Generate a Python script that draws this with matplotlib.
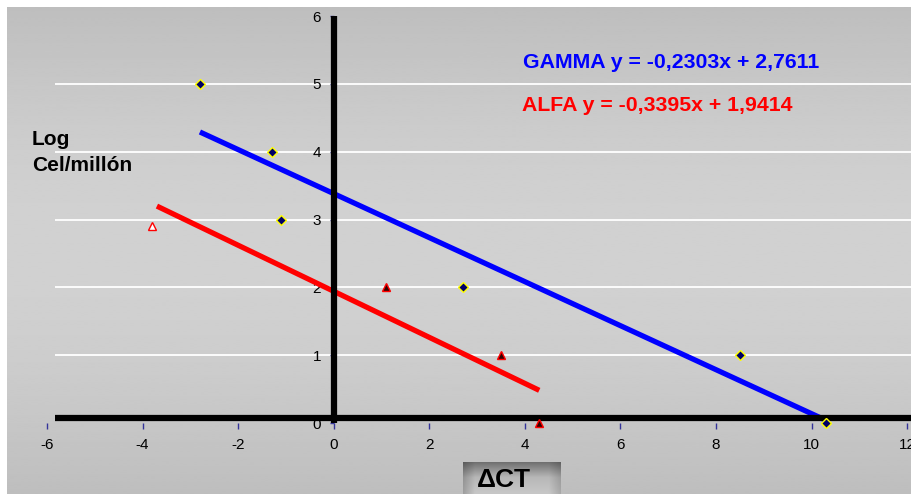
import numpy as np
import matplotlib.pyplot as plt

plt.rcParams['font.family'] = ['Liberation Sans', 'DejaVu Sans']
plt.rcParams['axes.unicode_minus'] = False

# datos
gamma_ct = [-2.8, -1.3, -1.1, 2.7, 8.5, 10.3]
gamma_log = [5, 4, 3, 2, 1, 0]
alfa_ct = [-3.8, 1.1, 3.5, 4.3]
alfa_log = [2.9, 2, 1, 0]
alfa_hollow = [True, False, False, False]

gamma_eq = (-0.2303, 2.7611)
alfa_eq = (-0.3395, 1.9414)

x_ticks = [-6, -4, -2, 0, 2, 4, 6, 8, 10, 12]
y_ticks = [0, 1, 2, 3, 4, 5, 6]

W, H = 912, 494
fig = plt.figure(figsize=(W / 100, H / 100), dpi=100)
fig.patch.set_facecolor('white')

# fondo degradado gris
bg = fig.add_axes([7 / W, 0, 1 - 7 / W, 1 - 7 / H], zorder=0)
grad = 0.745 + 0.075 * np.sin(np.linspace(0, np.pi, 256))
bg.imshow(grad[:, None], cmap='gray', vmin=0, vmax=1, aspect='auto',
          interpolation='bilinear')
bg.axis('off')

ax = fig.add_axes([47 / W, 71 / H, 865 / W, 407 / H], zorder=1)
ax.patch.set_alpha(0)
ax.set_xlim(-6, 12.1)
ax.set_ylim(0, 6)
for s in ['top', 'right']:
    ax.spines[s].set_visible(False)
ax.spines['left'].set_position(('data', 0))
ax.spines['bottom'].set_position(('data', 0))
ax.spines['left'].set_color('none')
ax.spines['bottom'].set_color('none')
ax.set_xticks(x_ticks)
ax.set_yticks(y_ticks)
ax.tick_params(axis='both', colors='#34349a', labelcolor='black',
               labelsize=11, direction='out', width=1)
ax.tick_params(axis='x', length=4.5, pad=6)
ax.tick_params(axis='y', length=3, pad=6)

# lineas de cuadricula
ax.hlines([t for t in y_ticks if 0 < t < 6], -5.83, 12.1, colors='white',
          linewidth=1.3, zorder=1)

# ejes gruesos
ax.plot([-5.83, 12.1], [0.075, 0.075], color='black', lw=4.5,
        solid_capstyle='butt', zorder=3, clip_on=False)
ax.plot([0, 0], [0, 6], color='black', lw=4.5,
        solid_capstyle='butt', zorder=3, clip_on=False)

# lineas de tendencia
g_fit = np.polyfit(gamma_ct, gamma_log, 1)
gx = np.array([min(gamma_ct), max(gamma_ct)])
ax.plot(gx, np.polyval(g_fit, gx), color='#0000ff', lw=3.8,
        solid_capstyle='butt', zorder=2.6)
ax_x = np.array([min(alfa_ct) + 0.1, max(alfa_ct)])
ax.plot(ax_x, alfa_eq[0] * ax_x + alfa_eq[1], color='#ff0000', lw=3.8,
        solid_capstyle='butt', zorder=2.6)

# puntos
ax.plot(gamma_ct, gamma_log, 'D', ms=5.5, mfc='#000066', mec='#ffff00',
        mew=1, ls='none', zorder=4, clip_on=False)
for x, y, h in zip(alfa_ct, alfa_log, alfa_hollow):
    ax.plot(x, y, '^', ms=5.5, mfc='white' if h else '#330000', mec='#ff0000',
            mew=1, zorder=4, clip_on=False)

# textos
fig.text(523 / W, 1 - 63 / H,
         'GAMMA y = %sx + %s' % (str(gamma_eq[0]).replace('.', ','),
                                 str(gamma_eq[1]).replace('.', ',')),
         color='#0000ff', fontsize=15.3, fontweight='bold', va='center')
fig.text(522 / W, 1 - 105 / H,
         'ALFA y = %sx + %s' % (str(alfa_eq[0]).replace('.', ','),
                                str(alfa_eq[1]).replace('.', ',')),
         color='#ff0000', fontsize=15.3, fontweight='bold', va='center')
fig.text(32 / W, 1 - 130 / H, 'Log\nCel/millón', fontsize=15,
         fontweight='bold', va='top', ha='left', linespacing=1.45)

# caja del titulo del eje x
bx = fig.add_axes([463 / W, 0, 97 / W, 32 / H], zorder=2)
vy = np.interp(np.linspace(0, 1, 64), [0, 0.5, 1], [0.42, 0.72, 0.78])
vx = np.interp(np.linspace(0, 1, 128), [0, 0.12, 0.88, 1], [0.8, 1, 1, 0.85])
bx.imshow(vy[:, None] * vx[None, :], cmap='gray', vmin=0, vmax=1,
          aspect='auto', interpolation='bilinear')
bx.axis('off')
fig.text(503.5 / W, 1 - 480 / H, 'ΔCT', fontsize=19, fontweight='bold',
         ha='center', va='center', zorder=5)

fig.savefig('out.png', dpi=100)
